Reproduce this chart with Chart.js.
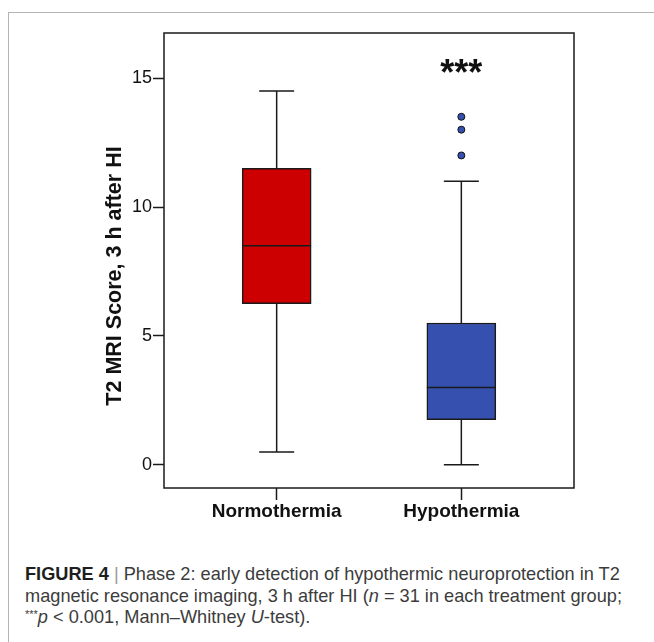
<!DOCTYPE html>
<html>
<head>
<meta charset="utf-8">
<script src="https://cdn.jsdelivr.net/npm/chart.js"></script>
<style>
  html, body { margin: 0; padding: 0; background: #fff; }
  body { width: 654px; height: 642px; position: relative; overflow: hidden; font-family: "Liberation Sans", Arial, sans-serif; }
  #frame { position: absolute; left: 8px; top: 12px; width: 700px; height: 700px; border-top: 1.5px solid #b4b4b4; border-left: 1.5px solid #b4b4b4; }
  #wrap { position: absolute; left: 0; top: 0; width: 654px; height: 545px; }
  #caption { position: absolute; left: 25px; top: 564px; font-size: 18.2px; line-height: 21.5px; color: #3c3c3c; white-space: nowrap; }
  #caption b { color: #1e1e1e; }
  #caption .bar { color: #999; }
  #caption sup { font-size: 11px; vertical-align: 5px; line-height: 0; }
</style>
</head>
<body>
<div id="frame"></div>
<div id="wrap"><canvas id="box-chart"></canvas></div>
<div id="caption"><b>FIGURE 4</b> <span class="bar">|</span> Phase 2: early detection of hypothermic neuroprotection in T2<br>magnetic resonance imaging, 3 h after HI (<i>n</i> = 31 in each treatment group;<br><sup>***</sup><i>p</i> &lt; 0.001, Mann–Whitney <i>U</i>-test).</div>
<script>
// values
const groups = ["Normothermia", "Hypothermia"];
const groupPos = [1, 2];
const whiskerLow = [0.5, 0];
const q1 = [6.25, 1.75];
const median = [8.5, 3];
const q3 = [11.5, 5.5];
const whiskerHigh = [14.5, 11];
const outliers = [[], [12, 13, 13.5]];
const yTicks = [0, 5, 10, 15];
const boxColors = ["#cc0000", "#3550ae"];

const lineColor = '#1a1a1a';

// whiskers, medians, frame, stars and y title
const boxPlot = {
  id: 'boxPlot',
  beforeDatasetsDraw(chart) {
    const {ctx, scales: {x, y}} = chart;
    ctx.save();
    ctx.strokeStyle = lineColor;
    ctx.lineWidth = 1.5;
    groupPos.forEach((g, i) => {
      const px = x.getPixelForValue(g);
      const hi = y.getPixelForValue(whiskerHigh[i]);
      const lo = y.getPixelForValue(whiskerLow[i]);
      ctx.beginPath();
      ctx.moveTo(px, hi); ctx.lineTo(px, y.getPixelForValue(q3[i]));
      ctx.moveTo(px, y.getPixelForValue(q1[i])); ctx.lineTo(px, lo);
      ctx.moveTo(px - 17.5, hi); ctx.lineTo(px + 17.5, hi);
      ctx.moveTo(px - 17.5, lo); ctx.lineTo(px + 17.5, lo);
      ctx.stroke();
    });
    ctx.restore();
  },
  afterDatasetsDraw(chart) {
    const {ctx, scales: {y}} = chart;
    const bars = chart.getDatasetMeta(0).data;
    ctx.save();
    ctx.strokeStyle = lineColor;
    ctx.lineWidth = 1.5;
    bars.forEach((bar, i) => {
      const my = y.getPixelForValue(median[i]);
      ctx.beginPath();
      ctx.moveTo(bar.x - bar.width / 2, my);
      ctx.lineTo(bar.x + bar.width / 2, my);
      ctx.stroke();
    });
    ctx.restore();
  },
  afterDraw(chart) {
    const {ctx, chartArea: a, scales: {x, y}} = chart;
    ctx.save();
    ctx.strokeStyle = lineColor;
    ctx.lineWidth = 1.5;
    ctx.strokeRect(a.left, a.top, a.right - a.left, a.bottom - a.top);

    ctx.fillStyle = '#111';
    ctx.font = 'bold 36px "Liberation Sans", Arial, sans-serif';
    ctx.textAlign = 'center';
    ctx.textBaseline = 'alphabetic';
    ctx.fillText('***', x.getPixelForValue(groupPos[1]), 85);

    ctx.translate(115, 276);
    ctx.rotate(-Math.PI / 2);
    ctx.font = 'bold 21.5px "Liberation Sans", Arial, sans-serif';
    ctx.textBaseline = 'middle';
    ctx.fillText('T2 MRI Score, 3 h after HI', 0, 0);
    ctx.restore();
  }
};

const ctx = document.getElementById('box-chart');
new Chart(ctx, {
  type: 'bar',
  data: {
    datasets: [
      {
        type: 'bar',
        data: groupPos.map((g, i) => ({x: g, y: [q1[i], q3[i]]})),
        backgroundColor: boxColors,
        borderColor: lineColor,
        borderWidth: 1.5,
        borderSkipped: false,
        barThickness: 69
      },
      {
        type: 'scatter',
        data: outliers.flatMap((vals, i) => vals.map(v => ({x: groupPos[i], y: v}))),
        pointRadius: 3.5,
        backgroundColor: boxColors[1],
        borderColor: '#111',
        borderWidth: 1
      }
    ]
  },
  options: {
    responsive: true,
    maintainAspectRatio: false,
    animation: false,
    layout: { padding: { top: 33, right: 80, left: 0, bottom: 0 } },
    plugins: { legend: { display: false }, tooltip: { enabled: false } },
    scales: {
      x: {
        type: 'linear',
        min: 0.39,
        max: 2.61,
        offset: false,
        afterBuildTicks: s => { s.ticks = groupPos.map(v => ({value: v})); },
        afterFit: s => { s.height = 57; },
        ticks: {
          callback: v => groups[groupPos.indexOf(v)],
          font: { family: '"Liberation Sans", Arial, sans-serif', size: 19, weight: 'bold' },
          color: '#111',
          padding: 0,
          autoSkip: false,
          maxRotation: 0
        },
        grid: { offset: false, drawOnChartArea: false, tickLength: 12, tickColor: lineColor, tickWidth: 1.5 },
        border: { display: false }
      },
      y: {
        min: -0.9,
        max: 16.75,
        afterBuildTicks: s => { s.ticks = yTicks.map(v => ({value: v})); },
        afterFit: s => { s.width = 164; },
        ticks: {
          font: { family: '"Liberation Sans", Arial, sans-serif', size: 18 },
          color: '#111',
          padding: 1
        },
        grid: { drawOnChartArea: false, tickLength: 11, tickColor: lineColor, tickWidth: 1.5 },
        border: { display: false }
      }
    }
  },
  plugins: [boxPlot]
});
</script>
</body>
</html>
